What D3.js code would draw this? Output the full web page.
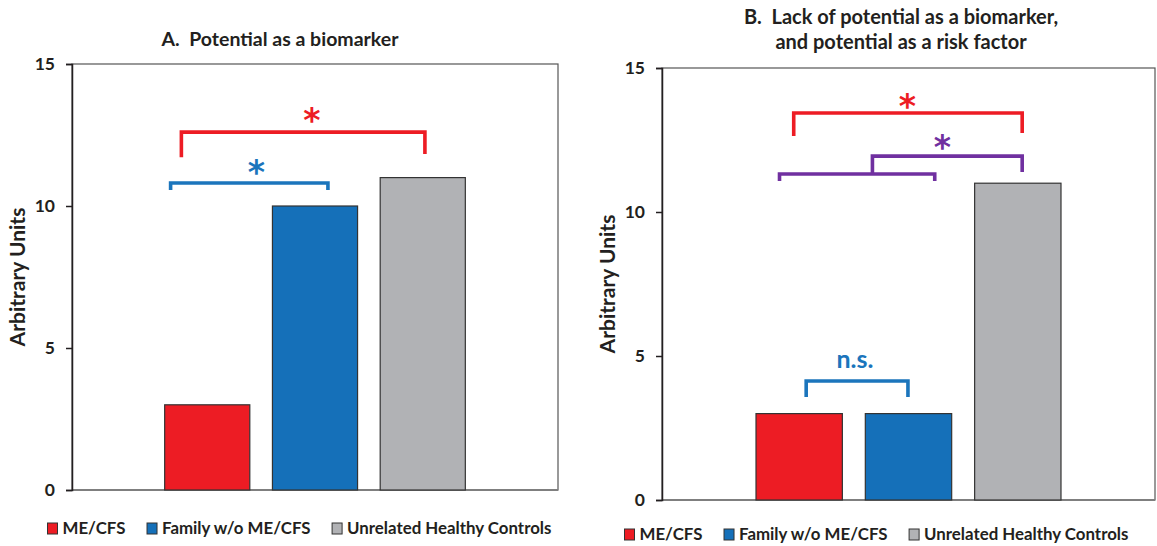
<!DOCTYPE html>
<html><head><meta charset="utf-8">
<script src="https://cdn.jsdelivr.net/npm/d3@7"></script>
<style>
body{margin:0;background:#fff}
text{font-family:Lato,"Open Sans",sans-serif;font-weight:bold;fill:#231f20;white-space:pre}
</style>
</head><body><svg id="c" width="1157" height="546"></svg>
<script>
// ---------- data ----------
const categories = ["ME/CFS", "Family w/o ME/CFS", "Unrelated Healthy Controls"];
const valuesA = [3, 10, 11];
const valuesB = [3, 3, 11];
const yTicks = [0, 5, 10, 15];
const yMax = 15;
const barColors = ["#ED1C24", "#1570B9", "#B1B2B5"];
const titleA = ["A.  Potential as a biomarker"];
const titleB = ["B.  Lack of potential as a biomarker,", "and potential as a risk factor"];
const yLabel = "Arbitrary Units";
// significance brackets: x = category index (+ offset in band steps), y = value units
const bracketsA = [
  {color:"#ED1C24", x1:-0.24, x2:2.02, y:12.6,  y1:11.72, y2:11.83, label:"*", lx:0.97,  ly:13.24},
  {color:"#1B75BC", x1:-0.34, x2:1.12, y:10.81, y1:10.56, y2:10.56, label:"*", lx:0.456, ly:11.41}
];
const bracketsB = [
  {color:"#ED1C24", x1:-0.05, x2:2.04, y:13.44, y1:12.64, y2:12.74, label:"*", lx:0.99, ly:13.92},
  {color:"#7030A0", x1:-0.18, x2:1.24, y:11.32, y1:11.08, y2:11.08, label:"",  lx:0,    ly:0},
  {color:"#7030A0", x1:0.67,  x2:2.04, y:11.94, y1:11.32, y2:11.39, label:"*", lx:1.31, ly:12.47},
  {color:"#1B75BC", x1:0.064, x2:0.995, y:4.13, y1:3.58,  y2:3.58,  label:"n.s.", lx:0.51, ly:4.58}
];

// ---------- drawing ----------
const svg = d3.select("#c");

function panel(cfg){
  const g = svg.append("g");
  const x = d3.scaleBand().domain(categories).range([cfg.left, cfg.right])
              .paddingInner(0.21).paddingOuter(0.86);
  const y = d3.scaleLinear().domain([0, yMax]).range([cfg.bottom, cfg.top]);
  const cx = v => x(categories[0]) + x.bandwidth()/2 + v * x.step();

  // frame
  g.append("rect").attr("x", cfg.left).attr("y", cfg.top)
    .attr("width", cfg.right - cfg.left).attr("height", cfg.bottom - cfg.top)
    .attr("fill", "none").attr("stroke", "#555").attr("stroke-width", 1.2);
  // bottom axis line
  g.append("line").attr("x1", cfg.left).attr("x2", cfg.right)
    .attr("y1", cfg.bottom).attr("y2", cfg.bottom)
    .attr("stroke", "#7f7f7f").attr("stroke-width", 2);

  // bars
  g.selectAll("rect.bar").data(cfg.values).join("rect").attr("class","bar")
    .attr("x", (d,i) => x(categories[i]))
    .attr("width", x.bandwidth())
    .attr("y", d => y(d))
    .attr("height", d => y(0) - y(d))
    .attr("fill", (d,i) => barColors[i])
    .attr("stroke", "#333").attr("stroke-width", 1.2);

  // y axis
  const ax = g.append("g").attr("transform", `translate(${cfg.left},0)`)
    .call(d3.axisLeft(y).tickValues(yTicks).tickSize(6).tickPadding(11).tickFormat(d3.format("d")));
  ax.select(".domain").attr("stroke", "#231f20").attr("stroke-width", 1.5);
  ax.selectAll(".tick line").attr("stroke", "#231f20").attr("stroke-width", 1.5);
  ax.selectAll(".tick text").style("font-family", "Lato,sans-serif").style("font-weight", "bold")
    .style("font-size", "17.5px").attr("fill", "#231f20");

  // y label
  g.append("text").attr("transform", `translate(${cfg.ylabX},${cfg.ylabY}) rotate(-90)`)
    .attr("text-anchor", "middle").attr("dy", "0.35em")
    .style("font-size", "21px").text(yLabel);

  // title
  g.selectAll("text.title").data(cfg.title).join("text").attr("class","title")
    .attr("x", cfg.titleX).attr("y", (d,i) => cfg.titleY + i * 25)
    .attr("text-anchor", "middle").style("font-size", cfg.titleSize + "px").text(d => d);

  // brackets
  cfg.brackets.forEach(b => {
    g.append("path")
      .attr("d", `M${cx(b.x1)},${y(b.y1)}V${y(b.y)}H${cx(b.x2)}V${y(b.y2)}`)
      .attr("fill", "none").attr("stroke", b.color).attr("stroke-width", 3.6)
      .attr("stroke-linejoin", "miter");
    if (b.label === "*") {
      g.append("text").attr("x", cx(b.lx)).attr("y", y(b.ly)).attr("dy", "0.56em")
        .attr("text-anchor", "middle").style("font-family", "DejaVu Sans")
        .style("font-size", "33px").style("fill", b.color).text(b.label);
    } else if (b.label) {
      g.append("text").attr("x", cx(b.lx)).attr("y", y(b.ly))
        .attr("text-anchor", "middle")
        .style("font-size", "25px").style("fill", b.color).text(b.label);
    }
  });

  // legend
  let lx = cfg.legX;
  categories.forEach((c,i) => {
    g.append("rect").attr("x", lx).attr("y", cfg.legY - 11).attr("width", 10).attr("height", 11)
      .attr("fill", barColors[i]).attr("stroke", "#333").attr("stroke-width", 1);
    const t = g.append("text").attr("x", lx + 15).attr("y", cfg.legY)
      .style("font-size", "16.85px").text(c);
    lx += 15 + t.node().getComputedTextLength() + 21.5;
  });
}

panel({left:72, right:558, top:64, bottom:490, values:valuesA, brackets:bracketsA,
  title:titleA, titleX:280, titleY:46, titleSize:19.5, ylabX:18, ylabY:277, legX:47.5, legY:534});
panel({left:662, right:1155, top:68, bottom:500, values:valuesB, brackets:bracketsB,
  title:titleB, titleX:901, titleY:24, titleSize:20, ylabX:608, ylabY:284, legX:624.5, legY:540});
</script>
</body></html>
